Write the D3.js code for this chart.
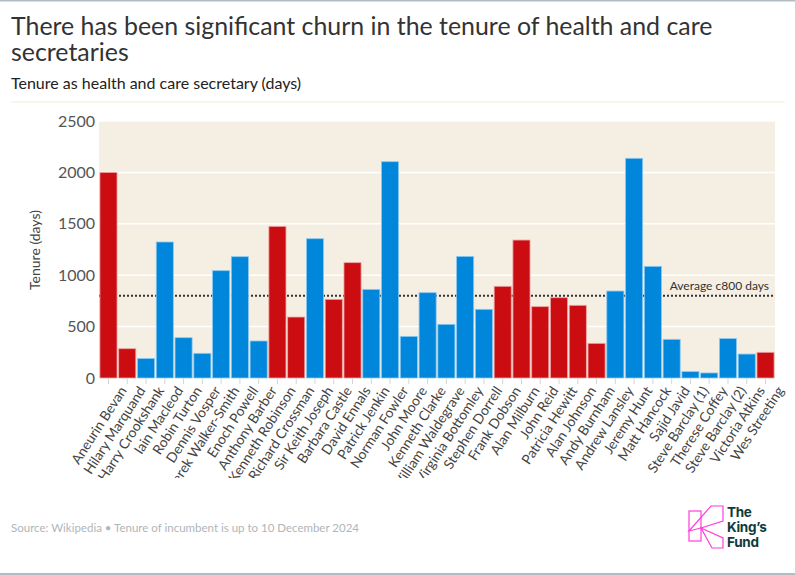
<!DOCTYPE html>
<html>
<head>
<meta charset="utf-8">
<script src="https://d3js.org/d3.v7.min.js"></script>
<style>
  body { margin: 0; background: #fff; }
  svg { display: block; }
</style>
</head>
<body>
<div id="chart"></div>
<script>
// secretaries in order of office
var names = ["Aneurin Bevan", "Hilary Marquand", "Harry Crookshank", "Iain Macleod", "Robin Turton",
  "Dennis Vosper", "Derek Walker-Smith", "Enoch Powell", "Anthony Barber", "Kenneth Robinson",
  "Richard Crossman", "Sir Keith Joseph", "Barbara Castle", "David Ennals", "Patrick Jenkin",
  "Norman Fowler", "John Moore", "Kenneth Clarke", "William Waldegrave", "Virginia Bottomley",
  "Stephen Dorrell", "Frank Dobson", "Alan Milburn", "John Reid", "Patricia Hewitt",
  "Alan Johnson", "Andy Burnham", "Andrew Lansley", "Jeremy Hunt", "Matt Hancock",
  "Sajid Javid", "Steve Barclay (1)", "Therese Coffey", "Steve Barclay (2)", "Victoria Atkins",
  "Wes Streeting"];

// tenure in days
var days = [2000, 285, 190, 1323, 392, 240, 1044, 1180, 360, 1475,
  593, 1355, 765, 1122, 862, 2104, 405, 830, 522, 1183,
  668, 892, 1342, 694, 781, 707, 337, 846, 2137, 1086,
  376, 62, 49, 383, 233, 250];

// L = Labour, C = Conservative
var party = ["L", "L", "C", "C", "C", "C", "C", "C", "C", "L",
  "L", "C", "L", "L", "C", "C", "C", "C", "C", "C",
  "C", "L", "L", "L", "L", "L", "L", "C", "C", "C",
  "C", "C", "C", "C", "C", "L"];

var yTicks = [0, 500, 1000, 1500, 2000, 2500];
var average = 800;

var W = 795, H = 575;
var margin = {top: 121, right: 20, bottom: 197, left: 99};
var width = W - margin.left - margin.right,
    height = H - margin.top - margin.bottom;

var svg = d3.select("#chart").append("svg")
  .attr("width", W)
  .attr("height", H)
  .style("font-family", "Lato, sans-serif");

// frame lines
svg.append("line").attr("x1", 0).attr("x2", W).attr("y1", 0.5).attr("y2", 0.5)
  .attr("stroke", "#b3bcc0").attr("stroke-width", 2);
svg.append("line").attr("x1", 0).attr("x2", W).attr("y1", 574).attr("y2", 574)
  .attr("stroke", "#b3bcc0").attr("stroke-width", 2);

// titles
svg.append("text").attr("x", 11).attr("y", 35)
  .style("font-size", "24.9px").attr("fill", "#333")
  .text("There has been significant churn in the tenure of health and care");
svg.append("text").attr("x", 11).attr("y", 61)
  .style("font-size", "24.9px").attr("fill", "#333")
  .text("secretaries");
svg.append("text").attr("x", 11).attr("y", 89)
  .style("font-size", "16px").attr("fill", "#222")
  .text("Tenure as health and care secretary (days)");
svg.append("line").attr("x1", 11).attr("x2", 785).attr("y1", 102).attr("y2", 102)
  .attr("stroke", "#f3ecdf").attr("stroke-width", 1);

var g = svg.append("g")
  .attr("transform", "translate(" + margin.left + "," + margin.top + ")");

var x = d3.scaleBand()
  .domain(names)
  .range([0, width])
  .paddingInner(0.09)
  .paddingOuter(0.05);

var y = d3.scaleLinear()
  .domain([0, 2500])
  .range([height, 0]);

// plot background
g.append("rect")
  .attr("width", width)
  .attr("height", height)
  .attr("fill", "#f5eee3");

// gridlines
g.selectAll(".grid")
  .data(yTicks.slice(1))
  .enter().append("line")
    .attr("x1", 0).attr("x2", width)
    .attr("y1", function(d) { return y(d); })
    .attr("y2", function(d) { return y(d); })
    .attr("stroke", "#fff")
    .attr("stroke-width", 1.5);

// average line, sits behind the bars
g.append("line")
  .attr("x1", 0).attr("x2", width)
  .attr("y1", y(average)).attr("y2", y(average))
  .attr("stroke", "#333")
  .attr("stroke-width", 2)
  .attr("stroke-dasharray", "2,2");
g.append("text")
  .attr("x", width - 6)
  .attr("y", y(average) - 6)
  .attr("text-anchor", "end")
  .style("font-size", "12px")
  .attr("fill", "#333")
  .text("Average c800 days");

// bars
var data = names.map(function(n, i) { return {name: n, days: days[i], party: party[i]}; });
g.selectAll(".bar")
  .data(data)
  .enter().append("rect")
    .attr("x", function(d) { return x(d.name); })
    .attr("y", function(d) { return y(d.days); })
    .attr("width", x.bandwidth())
    .attr("height", function(d) { return height - y(d.days); })
    .attr("fill", function(d) { return d.party == "L" ? "#cb0d12" : "#0086da"; })
    .attr("stroke", function(d) { return d.party == "L" ? "#eba4a4" : "#8cc9ef"; })
    .attr("stroke-width", 0.8);

// y axis
var yAxis = g.append("g")
  .call(d3.axisLeft(y).tickValues(yTicks).tickFormat(d3.format("d")).tickSize(0).tickPadding(4));
yAxis.select(".domain").remove();
yAxis.selectAll("text")
  .style("font-family", "Lato, sans-serif")
  .style("font-size", "16px")
  .attr("fill", "#555");

svg.append("text")
  .attr("transform", "translate(40,250) rotate(-90)")
  .attr("text-anchor", "middle")
  .style("font-size", "14px")
  .attr("fill", "#444")
  .text("Tenure (days)");

// x axis, labels clipped like the original
svg.append("clipPath").attr("id", "xclip")
  .append("rect").attr("x", -margin.left).attr("y", 0).attr("width", W).attr("height", 100);

var xAxis = g.append("g")
  .attr("transform", "translate(0," + height + ")")
  .attr("clip-path", "url(#xclip)")
  .call(d3.axisBottom(x).tickSize(6).tickPadding(7));
xAxis.select(".domain").remove();
xAxis.selectAll(".tick line").attr("stroke", "#d5d5d5");
xAxis.selectAll("text")
  .style("font-family", "Lato, sans-serif")
  .style("font-size", "13.8px")
  .attr("fill", "#444")
  .attr("text-anchor", "end")
  .attr("dx", "0.2em")
  .attr("dy", "0.9em")
  .attr("transform", "translate(-4,1) rotate(-57)");

// footer
svg.append("text").attr("x", 11).attr("y", 532)
  .style("font-size", "11.5px").attr("fill", "#b0b5b9")
  .text("Source: Wikipedia \u2022 Tenure of incumbent is up to 10 December 2024");

// logo
var logo = svg.append("g").attr("fill", "none").attr("stroke", "#ff3ddc").attr("stroke-width", 1.2);
logo.append("rect").attr("x", 689).attr("y", 511).attr("width", 12).attr("height", 30);
logo.append("path").attr("d", "M689,531 L711,506 L723,506 L723,521 L701,528 Z");
logo.append("path").attr("d", "M701,528 L723,538 L723,548 L712,548 Z");
var lt = svg.append("g").style("font-family", "Inter, sans-serif").style("font-weight", "700")
  .style("font-size", "13.5px").style("letter-spacing", "-0.3px").attr("fill", "#0d3b3b");
lt.append("text").attr("x", 727).attr("y", 517).text("The");
lt.append("text").attr("x", 727).attr("y", 532).text("King\u2019s");
lt.append("text").attr("x", 727).attr("y", 547).text("Fund");
</script>
</body>
</html>
